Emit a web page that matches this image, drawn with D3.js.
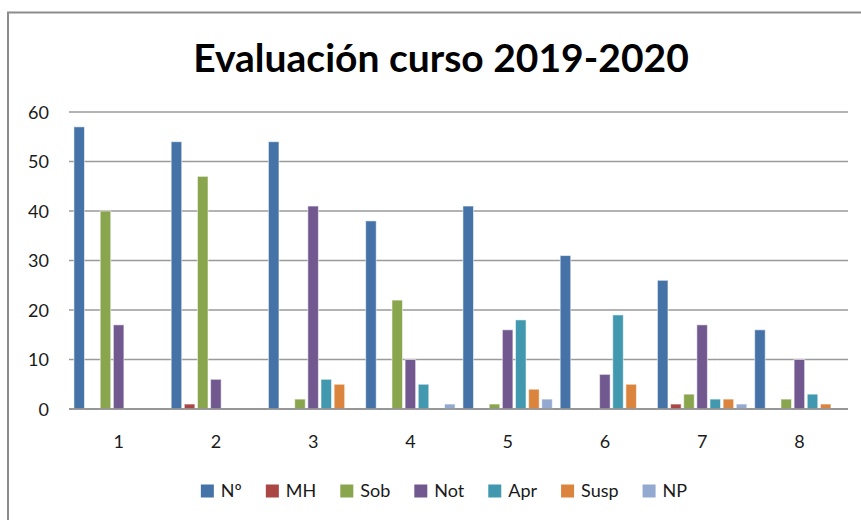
<!DOCTYPE html>
<html lang="es">
  <head>
    <meta charset="UTF-8" />
    <title>Evaluación curso 2019-2020</title>
    <style>
      body {
        margin: 0;
        background: #fff;
      }
      svg text {
        font-family: Lato, "Open Sans", sans-serif;
        fill: #1a1a1a;
      }
    </style>
  </head>
  <body>
    <div id="chart"></div>

    <script src="https://cdn.jsdelivr.net/npm/d3@7"></script>

    <script>
      ///////////////////////////////////////////////////////////////////////////
      ///////////////////////////////// Data ////////////////////////////////////
      ///////////////////////////////////////////////////////////////////////////

      var categories = ["1", "2", "3", "4", "5", "6", "7", "8"];
      var seriesNames = ["Nº", "MH", "Sob", "Not", "Apr", "Susp", "NP"];
      var seriesColors = ["#4572A7", "#AA4643", "#89A54E", "#71588F", "#4198AF", "#DB843D", "#93A9CF"];

      //one array per series, one value per category
      var valNum = [57, 54, 54, 38, 41, 31, 26, 16];
      var valMH = [0, 1, 0, 0, 0, 0, 1, 0];
      var valSob = [40, 47, 2, 22, 1, 0, 3, 2];
      var valNot = [17, 6, 41, 10, 16, 7, 17, 10];
      var valApr = [0, 0, 6, 5, 18, 19, 2, 3];
      var valSusp = [0, 0, 5, 0, 4, 5, 2, 1];
      var valNP = [0, 0, 0, 1, 2, 0, 1, 0];

      var yTicks = [0, 10, 20, 30, 40, 50, 60];

      var seriesValues = [valNum, valMH, valSob, valNot, valApr, valSusp, valNP];

      ///////////////////////////////////////////////////////////////////////////
      ////////////////////////////// Set up svg /////////////////////////////////
      ///////////////////////////////////////////////////////////////////////////

      var width = 861,
        height = 520;

      var svg = d3
        .select("#chart")
        .append("svg")
        .attr("width", width)
        .attr("height", height);

      //outer chart frame (right and bottom edges fall outside the picture)
      svg
        .append("rect")
        .attr("x", 8)
        .attr("y", 12.5)
        .attr("width", 900)
        .attr("height", 560)
        .style("fill", "#fff")
        .style("stroke", "#8c8c8c")
        .style("stroke-width", 2);

      //title
      svg
        .append("text")
        .attr("x", 441)
        .attr("y", 72)
        .attr("text-anchor", "middle")
        .style("font-size", "39px")
        .style("font-weight", "bold")
        .style("fill", "#000")
        .text("Evaluación curso 2019-2020");

      ///////////////////////////////////////////////////////////////////////////
      //////////////////////////////// Scales ///////////////////////////////////
      ///////////////////////////////////////////////////////////////////////////

      var plot = { left: 70, right: 848, top: 112, bottom: 409 };

      var x0 = d3
        .scaleBand()
        .domain(categories)
        .range([plot.left, plot.right])
        .paddingInner(0)
        .paddingOuter(0);

      var x1 = d3
        .scaleBand()
        .domain(seriesNames)
        .range([0, x0.bandwidth()])
        .paddingInner(0)
        .paddingOuter(0.2);

      var y = d3
        .scaleLinear()
        .domain([0, 60])
        .range([plot.bottom, plot.top]);

      //gridlines
      svg
        .append("g")
        .selectAll("line")
        .data(yTicks)
        .enter()
        .append("line")
        .attr("x1", plot.left - 1)
        .attr("x2", plot.right)
        .attr("y1", function(d) {
          return y(d);
        })
        .attr("y2", function(d) {
          return y(d);
        })
        .style("stroke", "#9a9a9a")
        .style("stroke-width", 1.5);

      //y axis labels
      var yAxis = d3
        .axisLeft(y)
        .tickValues(yTicks)
        .tickSize(0)
        .tickPadding(0);
      var gy = svg
        .append("g")
        .attr("transform", "translate(" + 49 + ",0)")
        .call(yAxis);
      gy.select(".domain").remove();
      gy.selectAll("text")
        .style("font-size", "18px")
        .attr("font-family", null)
        .attr("dy", "0.35em");

      //x axis labels
      var xAxis = d3
        .axisBottom(x0)
        .tickSize(0)
        .tickPadding(0);
      var gx = svg
        .append("g")
        .attr("transform", "translate(0," + 442 + ")")
        .call(xAxis);
      gx.select(".domain").remove();
      gx.selectAll("text")
        .style("font-size", "18px")
        .attr("font-family", null)
        .attr("dy", "0.36em")
        .attr("y", 0);

      ///////////////////////////////////////////////////////////////////////////
      ///////////////////////////////// Bars ////////////////////////////////////
      ///////////////////////////////////////////////////////////////////////////

      var groups = svg
        .append("g")
        .selectAll("g")
        .data(categories)
        .enter()
        .append("g")
        .attr("transform", function(d) {
          return "translate(" + x0(d) + ",0)";
        });

      groups
        .selectAll("rect")
        .data(function(d, i) {
          return seriesNames.map(function(s, j) {
            return { series: s, color: seriesColors[j], value: seriesValues[j][i] };
          });
        })
        .enter()
        .filter(function(d) {
          return d.value > 0;
        })
        .append("rect")
        .attr("x", function(d) {
          return x1(d.series) + 1.3;
        })
        .attr("width", x1.bandwidth() - 2.6)
        .attr("y", function(d) {
          return y(d.value);
        })
        .attr("height", function(d) {
          return y(0) - y(d.value);
        })
        .style("fill", function(d) {
          return d.color;
        })
        .style("stroke", "rgba(255,255,255,0.55)")
        .style("stroke-width", 1);

      //zero line on top of the bars
      svg
        .append("line")
        .attr("x1", plot.left - 1)
        .attr("x2", plot.right)
        .attr("y1", y(0))
        .attr("y2", y(0))
        .style("stroke", "#8c8c8c")
        .style("stroke-width", 1.5);

      ///////////////////////////////////////////////////////////////////////////
      //////////////////////////////// Legend ///////////////////////////////////
      ///////////////////////////////////////////////////////////////////////////

      var legend = svg.append("g").attr("transform", "translate(0,491)");
      var legendItems = legend
        .selectAll("g")
        .data(seriesNames)
        .enter()
        .append("g");

      legendItems
        .append("rect")
        .attr("y", -6.5)
        .attr("width", 13)
        .attr("height", 13)
        .style("fill", function(d, i) {
          return seriesColors[i];
        });

      legendItems
        .append("text")
        .attr("x", 20)
        .attr("dy", "0.36em")
        .style("font-size", "18px")
        .text(function(d) {
          return d;
        });

      //place the items next to each other, centred under the plot
      var widths = [];
      legendItems.each(function() {
        widths.push(20 + d3.select(this).select("text").node().getComputedTextLength());
      });
      var itemGap = 24;
      var total = d3.sum(widths) + itemGap * (widths.length - 1);
      var start = 444 - total / 2;
      legendItems.attr("transform", function(d, i) {
        var pos = start + d3.sum(widths.slice(0, i)) + itemGap * i;
        return "translate(" + pos + ",0)";
      });
    </script>
  </body>
</html>
